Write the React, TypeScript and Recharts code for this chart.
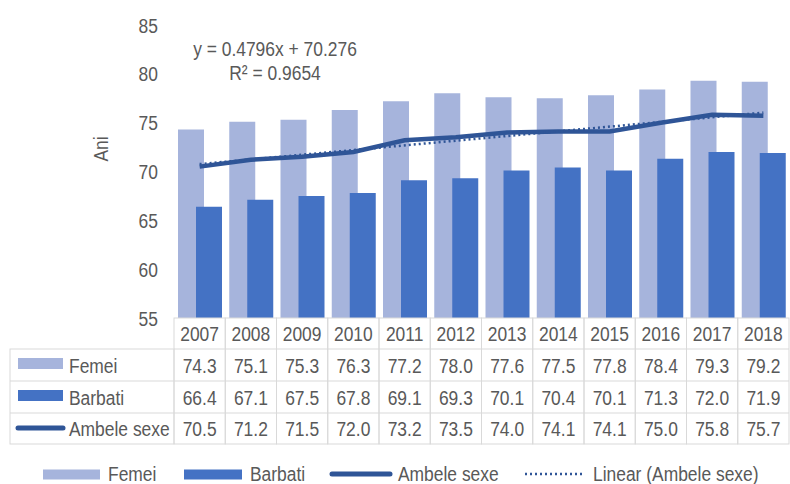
import { ComposedChart, Bar, Line, XAxis, YAxis, Customized } from 'recharts';

const years = ['2007', '2008', '2009', '2010', '2011', '2012', '2013', '2014', '2015', '2016', '2017', '2018'];
const femei = [74.3, 75.1, 75.3, 76.3, 77.2, 78.0, 77.6, 77.5, 77.8, 78.4, 79.3, 79.2];
const barbati = [66.4, 67.1, 67.5, 67.8, 69.1, 69.3, 70.1, 70.4, 70.1, 71.3, 72.0, 71.9];
const ambele = [70.5, 71.2, 71.5, 72.0, 73.2, 73.5, 74.0, 74.1, 74.1, 75.0, 75.8, 75.7];
// linear trendline ends (y = 0.4796x + 70.276)
const trend = [70.76, null, null, null, null, null, null, null, null, null, null, 76.03];
const yTicks = [55, 60, 65, 70, 75, 80, 85];

const data = years.map((y, i) => ({ year: y, femei: femei[i], barbati: barbati[i], ambele: ambele[i], trend: trend[i] }));

const FONT = '"Liberation Sans", Arial, sans-serif';
const TXT = '#595959';
const GRID = '#d9d9d9';
const C_F = '#a6b4dc';
const C_B = '#4472c4';
const C_A = '#2f5597';

const ROWS = [318, 349, 381, 413, 444];
const BAND = 615 / 12;

// narrow text: Arial squeezed horizontally, like Arial Narrow
function NText({ x, y, anchor = 'start', rotate = 0, children }: any) {
  return (
    <text
      transform={`translate(${x},${y}) rotate(${rotate}) scale(0.83,1)`}
      textAnchor={anchor}
      fontFamily={FONT}
      fontSize={21}
      fill={TXT}
    >
      {children}
    </text>
  );
}

function TableTick(props: any) {
  const { x, payload } = props;
  const i = payload.index;
  const x0 = x - BAND / 2;
  const vals = [femei[i], barbati[i], ambele[i]];
  const mid = (r: number) => (ROWS[r] + ROWS[r + 1]) / 2 + 7.5;
  return (
    <g>
      {i === 0 && (
        <g>
          <rect x={10} y={ROWS[1]} width={164} height={ROWS[4] - ROWS[1]} fill="none" stroke={GRID} />
          <line x1={10} x2={174} y1={ROWS[2]} y2={ROWS[2]} stroke={GRID} />
          <line x1={10} x2={174} y1={ROWS[3]} y2={ROWS[3]} stroke={GRID} />
          <rect x={18} y={358} width={45} height={11} fill={C_F} />
          <NText x={69} y={mid(1)}>Femei</NText>
          <rect x={18} y={390} width={45} height={11} fill={C_B} />
          <NText x={69} y={mid(2)}>Barbati</NText>
          <line x1={18} x2={63} y1={428} y2={428} stroke={C_A} strokeWidth={5} strokeLinecap="round" />
          <NText x={69} y={mid(3)}>Ambele sexe</NText>
        </g>
      )}
      <rect x={x0} y={ROWS[0]} width={BAND} height={ROWS[4] - ROWS[0]} fill="none" stroke={GRID} />
      {[1, 2, 3].map((r) => (
        <line key={r} x1={x0} x2={x0 + BAND} y1={ROWS[r]} y2={ROWS[r]} stroke={GRID} />
      ))}
      <NText x={x} y={mid(0)} anchor="middle">{payload.value}</NText>
      {vals.map((v, r) => (
        <NText key={r} x={x} y={mid(r + 1)} anchor="middle">{v.toFixed(1)}</NText>
      ))}
    </g>
  );
}

function YTick(props: any) {
  const { y, payload } = props;
  return <NText x={158} y={y + 7.5} anchor="end">{payload.value}</NText>;
}

function Extras() {
  const ly = 474;
  return (
    <g>
      <NText x={275} y={56} anchor="middle">y = 0.4796x + 70.276</NText>
      <NText x={275} y={80} anchor="middle">R² = 0.9654</NText>
      <NText x={108} y={149} anchor="middle" rotate={-90}>Ani</NText>
      <rect x={43} y={ly - 4.5} width={57} height={10} fill={C_F} />
      <NText x={108} y={ly + 6.5}>Femei</NText>
      <rect x={184} y={ly - 4.5} width={58} height={10} fill={C_B} />
      <NText x={250} y={ly + 6.5}>Barbati</NText>
      <line x1={332} x2={390} y1={ly} y2={ly} stroke={C_A} strokeWidth={5} strokeLinecap="round" />
      <NText x={398} y={ly + 6.5}>Ambele sexe</NText>
      <line x1={525} x2={582} y1={ly} y2={ly} stroke={C_A} strokeWidth={2.5} strokeDasharray="2 3" />
      <NText x={593} y={ly + 6.5}>Linear (Ambele sexe)</NText>
    </g>
  );
}

export default function App() {
  return (
    <div style={{ position: 'absolute', left: 0, top: 0, width: 790, height: 484, background: '#fff' }}>
      <ComposedChart
        width={790}
        height={484}
        data={data}
        margin={{ top: 25, right: 1, bottom: 36, left: 0 }}
        barGap={-8}
        barSize={26}
      >
        <XAxis dataKey="year" axisLine={false} tickLine={false} height={130} tick={<TableTick />} interval={0} />
        <YAxis width={174} domain={[55, 85]} ticks={yTicks} axisLine={false} tickLine={false} tick={<YTick />} interval={0} />
        <Bar dataKey="femei" fill={C_F} isAnimationActive={false} />
        <Bar dataKey="barbati" fill={C_B} isAnimationActive={false} />
        <Line dataKey="ambele" stroke={C_A} strokeWidth={4.5} dot={false} type="linear" isAnimationActive={false} />
        <Line dataKey="trend" stroke={C_A} strokeWidth={2.5} strokeDasharray="2 3" dot={false} connectNulls type="linear" isAnimationActive={false} />
        <Customized component={Extras} />
      </ComposedChart>
    </div>
  );
}
